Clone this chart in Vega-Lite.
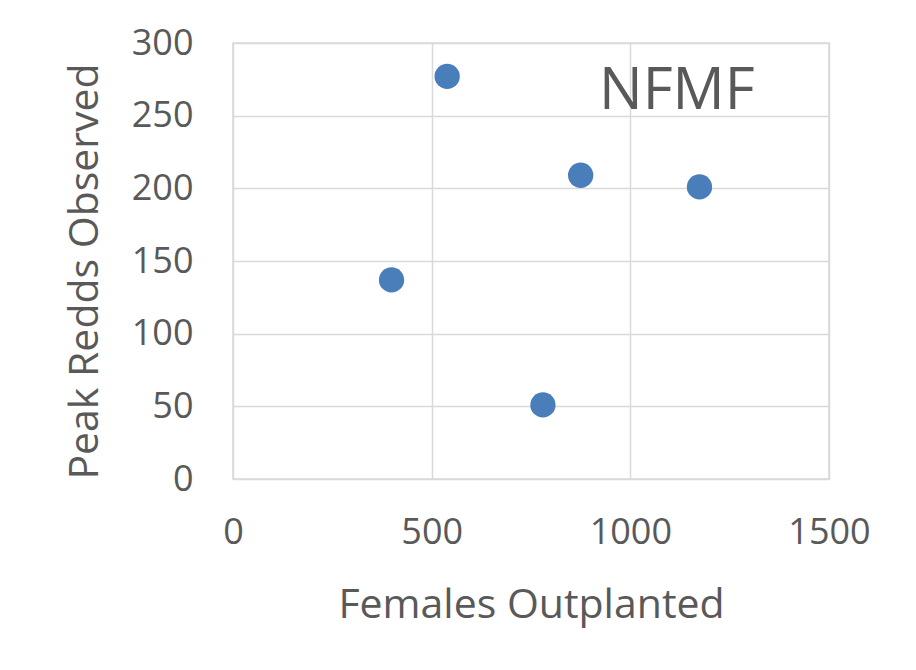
{
  "$schema": "https://vega.github.io/schema/vega-lite/v6.json",
  "width": 596,
  "height": 436,
  "autosize": {"type": "none"},
  "padding": {"left": 233, "top": 43, "right": 87, "bottom": 191},
  "background": "white",
  "config": {
    "view": {"stroke": "#d9d9d9", "strokeWidth": 1.5},
    "font": "Open Sans"
  },
  "datasets": {
    "points": [
      {"females": 399, "redds": 137},
      {"females": 539, "redds": 277},
      {"females": 875, "redds": 209},
      {"females": 1174, "redds": 201},
      {"females": 780, "redds": 51}
    ],
    "labels": [
      {"females": 1117, "redds": 266, "label": "NFMF"}
    ]
  },
  "layer": [
    {
      "data": {"name": "points"},
      "mark": {"type": "circle", "size": 640, "opacity": 1, "color": "#4a7ebb"},
      "encoding": {
        "x": {
          "field": "females", "type": "quantitative",
          "scale": {"domain": [0, 1500], "nice": false},
          "axis": {
            "title": "Females Outplanted",
            "values": [0, 500, 1000, 1500],
            "format": "d",
            "labelFlush": false,
            "domain": false, "ticks": false,
            "grid": true, "gridColor": "#d9d9d9", "gridWidth": 1.5,
            "labelFontSize": 36, "labelColor": "#595959", "labelPadding": 36,
            "labelFont": "Open Sans",
            "titleFontSize": 41, "titleColor": "#595959", "titleFontWeight": "normal",
            "titleFont": "Open Sans",
            "titleX": 298, "titleY": 126, "titleBaseline": "middle", "titleAlign": "center"
          }
        },
        "y": {
          "field": "redds", "type": "quantitative",
          "scale": {"domain": [0, 300], "nice": false},
          "axis": {
            "title": "Peak Redds Observed",
            "values": [0, 50, 100, 150, 200, 250, 300],
            "domain": false, "ticks": false,
            "grid": true, "gridColor": "#d9d9d9", "gridWidth": 1.5,
            "labelFontSize": 36, "labelColor": "#595959", "labelPadding": 40,
            "labelFont": "Open Sans",
            "titleFontSize": 41, "titleColor": "#595959", "titleFontWeight": "normal",
            "titleFont": "Open Sans",
            "titleX": -148, "titleY": 228, "titleAngle": -90,
            "titleBaseline": "middle", "titleAlign": "center"
          }
        }
      }
    },
    {
      "data": {"name": "labels"},
      "mark": {"type": "text", "fontSize": 58, "color": "#595959", "align": "center", "baseline": "middle", "font": "Open Sans"},
      "encoding": {
        "x": {"field": "females", "type": "quantitative"},
        "y": {"field": "redds", "type": "quantitative"},
        "text": {"field": "label"}
      }
    }
  ]
}
